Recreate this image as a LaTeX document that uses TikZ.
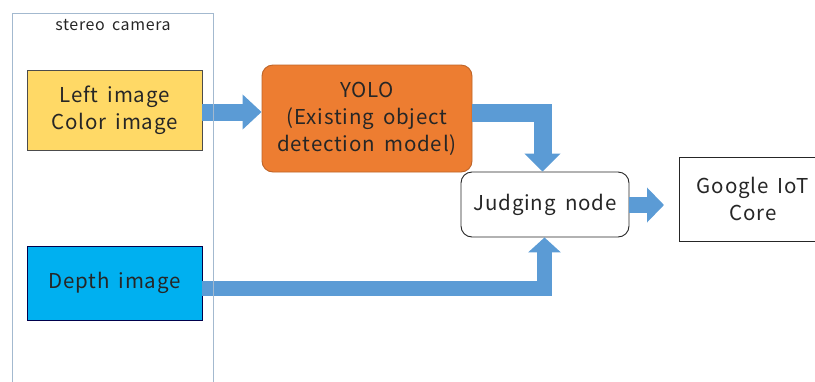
\documentclass[tikz,border=0pt]{standalone}
\usepackage{fontspec}
\setmainfont[LetterSpace=4, WordSpace=1.7]{Noto Sans CJK JP}
\usetikzlibrary{arrows.meta}

\definecolor{camline}{HTML}{A3B9CF}
\definecolor{leftfill}{HTML}{FFD966}
\definecolor{depthfill}{HTML}{00B0F0}
\definecolor{yolofill}{HTML}{ED7D31}
\definecolor{flowblue}{HTML}{5B9BD5}
\definecolor{inktext}{HTML}{262626}

\tikzset{
  box/.style={draw, line width=0.9pt, minimum width=175pt, align=center,
    text=inktext, font=\fontsize{20.5}{27}\selectfont, inner sep=0pt},
  roundbox/.style={box, rounded corners=11pt},
  fatarrow/.style={draw=flowblue, line join=miter, line cap=butt},
}

\begin{document}
\begin{tikzpicture}[x=1pt, y=-1pt]
  \useasboundingbox (0,0) rectangle (815,381);
  \clip (0,0) rectangle (815,381);

  % source images inside the camera
  \node[box, fill=leftfill, draw=black!70, minimum width=175pt, minimum height=80pt]
    (left) at (114.5,110) {Left image\\Color image};
  \node[box, fill=depthfill, draw=black!70!blue, minimum width=175pt, minimum height=74pt]
    (depth) at (114.5,283) {Depth image};

  % processing
  \node[roundbox, fill=yolofill, draw=yolofill!80!black, minimum width=210pt, minimum height=107pt]
    (yolo) at (367,118.5) {YOLO\\(Existing object\\detection model)};
  \node[roundbox, fill=white, draw=black!85, minimum width=168pt, minimum height=65pt]
    (judge) at (545,204.5) {Judging node};
  \node[box, fill=white, draw=black!85, minimum width=148pt, minimum height=84pt]
    (iot) at (753,199) {Google IoT\\Core};

  % block arrows
  \draw[fatarrow, line width=17pt, -{Triangle[width=34pt, length=19pt]}]
    (left.east |- 0,112) -- (yolo.west |- 0,112);
  \draw[fatarrow, line width=18pt, -{Triangle[width=35pt, length=18pt]}]
    (yolo.east |- 0,113) -| (542.5,0 |- judge.north);
  \coordinate (iotin) at (664,205);
  \draw[fatarrow, line width=16pt, -{Triangle[width=34pt, length=17pt]}]
    (judge.east |- iotin) -- (iotin);
  \draw[fatarrow, line width=15pt, -{Triangle[width=32pt, length=15pt]}]
    (depth.east |- 0,288.5) -| (544.5,0 |- judge.south);

  % stereo camera frame, open at the bottom edge
  \draw[camline, line width=0.9pt] (12.5,400) -- (12.5,13) -- (213.5,13) -- (213.5,400);
  \node[text=inktext, font=\fontsize{16}{19}\selectfont] (cam) at (113,25) {stereo camera};
\end{tikzpicture}
\end{document}
